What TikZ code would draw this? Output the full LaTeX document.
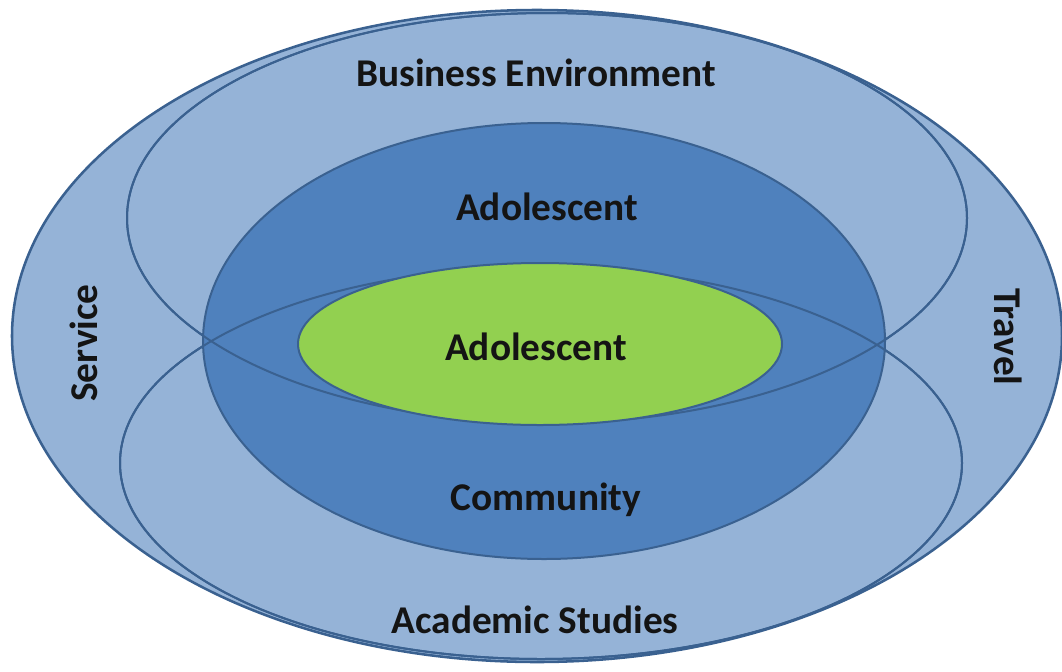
\documentclass[tikz,border=0pt]{standalone}
\usepackage{fontspec}
\setmainfont{Carlito}

\definecolor{lightfill}{HTML}{95B3D7}
\definecolor{darkfill}{HTML}{4F81BD}
\definecolor{greenfill}{HTML}{92D050}
\definecolor{rimline}{HTML}{3A6190}

\begin{document}
\begin{tikzpicture}[x=0.75pt,y=0.75pt,yscale=-1,xscale=1,
  ring/.style={draw=rimline,line width=1.5pt},
  lbl/.style={inner sep=0.75pt,font=\fontsize{29.5}{35}\selectfont\bfseries,text=black!92}]
\useasboundingbox (0,0) rectangle (1062,671);

%Shape: Ellipse [outer]
\draw[ring,line width=1.9pt,fill=lightfill] (537,336) ellipse [x radius=525, y radius=326];
%Shape: Ellipse [upper]
\draw[ring,fill=lightfill] (547,218) ellipse [x radius=420, y radius=205];
%Shape: Ellipse [lower]
\draw[ring,fill=lightfill] (541,463) ellipse [x radius=421, y radius=196];
%Shape: Ellipse [middle]
\draw[ring,fill=darkfill] (544,341) ellipse [x radius=341, y radius=218];
%Straight Lines [upper and lower rims again, over the middle]
\draw[ring] (547,218) ellipse [x radius=420, y radius=205];
\draw[ring] (541,463) ellipse [x radius=421, y radius=196];
%Shape: Ellipse [core]
\draw[ring,fill=greenfill] (540,344) ellipse [x radius=242, y radius=81];

% Text Node
\node[lbl] (busenv) at (536,73) {Business Environment};
% Text Node
\node[lbl] (adoltop) at (547,207) {Adolescent};
% Text Node
\node[lbl] (adolcore) at (536,347) {Adolescent};
% Text Node
\node[lbl] (community) at (546,500) {Community};
% Text Node
\node[lbl] (academic) at (535,620) {Academic Studies};
% Text Node
\node[lbl,rotate=90] (service) at (84,343) {Service};
% Text Node
\node[lbl,rotate=-90] (travel) at (1008,337) {Travel};

\end{tikzpicture}
\end{document}
